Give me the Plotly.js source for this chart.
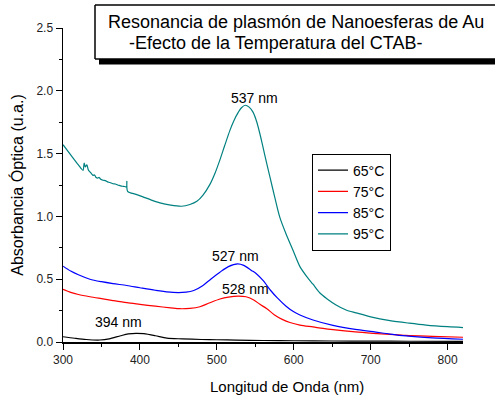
<!DOCTYPE html>
<html>
<head>
<meta charset="utf-8">
<script src="https://cdn.plot.ly/plotly-3.0.1.min.js"></script>
<style>html,body{margin:0;padding:0;background:#fff;overflow:hidden;}#chart{width:495px;height:398px;}</style>
</head>
<body>
<div id="chart"></div>
<script>
// ---- Data ----
const seriesNames = ["65°C", "75°C", "85°C", "95°C"];
const seriesColors = ["#000000", "#ff0000", "#0000ff", "#008080"];

const wl65 = [300,315,330,348,360,375,385,395,405,420,435,455,480,500,525,560,600,650,700,750,820];
const ab65 = [0.042,0.030,0.020,0.016,0.025,0.050,0.064,0.069,0.066,0.050,0.031,0.025,0.020,0.018,0.015,0.012,0.010,0.008,0.007,0.006,0.005];

const wl75 = [300,310,320,335,350,365,383,400,420,440,452,465,478,490,504,515,528,538,548,556,565,575,585,595,608,625,638,651,680,703,725,746,780,820];
const ab75 = [0.419,0.395,0.378,0.360,0.345,0.330,0.313,0.300,0.285,0.272,0.265,0.268,0.281,0.310,0.342,0.358,0.366,0.360,0.335,0.300,0.265,0.215,0.180,0.155,0.135,0.120,0.108,0.098,0.080,0.069,0.060,0.052,0.045,0.038];

const wl85 = [300,310,320,335,350,365,383,400,420,443,460,470,482,492,504,515,527,535,545,551,560,570,578,590,600,608,625,651,680,703,725,746,780,820];
const ab85 = [0.604,0.565,0.535,0.500,0.480,0.465,0.450,0.432,0.412,0.395,0.397,0.410,0.450,0.500,0.556,0.600,0.622,0.610,0.570,0.546,0.490,0.410,0.355,0.285,0.240,0.215,0.175,0.132,0.100,0.082,0.063,0.048,0.033,0.022];

const wl95 = [300,310,320,326,327.5,329,331,333,335,337,339,341,343,345,347,349,352,355,358,361,365,368,371,374,377,380,382.5,383,384,395,404,415,426,440,454,465,474,482,491,498,504,510,517,522,528,532,537,542,547,552,558,563,569,575,582,590,599,608,617,625,634,643,655,668,681,700,725,750,772,800,820];
const ab95 = [1.571,1.490,1.410,1.367,1.425,1.395,1.410,1.370,1.355,1.340,1.327,1.330,1.310,1.305,1.310,1.295,1.288,1.285,1.275,1.270,1.260,1.258,1.250,1.245,1.240,1.238,1.235,1.280,1.200,1.175,1.155,1.130,1.108,1.090,1.081,1.095,1.120,1.170,1.255,1.350,1.450,1.560,1.685,1.760,1.830,1.865,1.885,1.870,1.830,1.750,1.606,1.470,1.314,1.160,0.990,0.860,0.730,0.600,0.520,0.460,0.390,0.345,0.295,0.255,0.232,0.200,0.170,0.150,0.135,0.122,0.115];

const peakLabels = ["537 nm", "527 nm", "528 nm", "394 nm"];
const peakLabelX = [549, 524, 537.5, 372];
const peakLabelY = [1.945, 0.684, 0.419, 0.161];

const titleLines = ["Resonancia de plasmón de Nanoesferas de Au", "-Efecto de la Temperatura del CTAB-"];
const xTitle = "Longitud de Onda (nm)";
const yTitle = "Absorbancia Óptica (u.a.)";

// ---- Build ----
const FONT = "Liberation Sans, Arial, sans-serif";
const xs = [wl65, wl75, wl85, wl95];
const ys = [ab65, ab75, ab85, ab95];
const traces = seriesNames.map((n, i) => ({
  x: xs[i], y: ys[i], name: n, type: "scatter", mode: "lines",
  line: {color: seriesColors[i], width: 1.2, shape: "spline", smoothing: 0.8}
}));

const annotations = peakLabels.map((t, i) => ({
  text: t, x: peakLabelX[i], y: peakLabelY[i], xref: "x", yref: "y",
  showarrow: false, font: {family: FONT, size: 14, color: "#000"}
}));
annotations.push({text: titleLines[0], xref: "paper", yref: "paper", x: 0.1075, y: 1.019,
  xanchor: "left", yanchor: "middle", showarrow: false, font: {family: FONT, size: 18, color: "#000"}});
annotations.push({text: titleLines[1], xref: "paper", yref: "paper", x: 0.16, y: 0.952,
  xanchor: "left", yanchor: "middle", showarrow: false, font: {family: FONT, size: 18, color: "#000"}});
annotations.push({text: xTitle, xref: "paper", yref: "paper", x: 0.559, y: -0.142,
  xanchor: "center", yanchor: "middle", showarrow: false, font: {family: FONT, size: 15, color: "#000"}});

const BOX = {x0: 0.08, x1: 1.2, y0: 0.901, y1: 1.073};
const layout = {
  width: 495, height: 398,
  margin: {l: 63, r: 32, t: 28, b: 56, pad: 0},
  paper_bgcolor: "#fff", plot_bgcolor: "#fff",
  font: {family: FONT, color: "#000"},
  showlegend: true,
  legend: {x: 0.6225, y: 0.6, xanchor: "left", yanchor: "top",
    bordercolor: "#000", borderwidth: 1, bgcolor: "#fff",
    font: {family: FONT, size: 14, color: "#000"}, itemwidth: 30, tracegroupgap: 0},
  xaxis: {range: [300, 820], showgrid: false, zeroline: false, showline: true,
    linecolor: "#000", linewidth: 1.5, ticks: "outside", ticklen: 6, tickwidth: 1, tickcolor: "#000",
    dtick: 100, tick0: 300, tickfont: {family: FONT, size: 12, color: "#222"},
    minor: {dtick: 50, ticks: "outside", ticklen: 3, tickcolor: "#000", showgrid: false}},
  yaxis: {range: [0, 2.5], showgrid: false, zeroline: false, showline: true,
    linecolor: "#000", linewidth: 1.5, ticks: "outside", ticklen: 6, tickwidth: 1, tickcolor: "#000",
    dtick: 0.5, tick0: 0, tickformat: ".1f", tickfont: {family: FONT, size: 12, color: "#222"},
    minor: {dtick: 0.25, ticks: "outside", ticklen: 3, tickcolor: "#000", showgrid: false},
    title: {text: yTitle, font: {family: FONT, size: 16, color: "#000"}, standoff: 9}},
  shapes: [
    {type: "rect", xref: "paper", yref: "paper", x0: 0.09, x1: 1.3, y0: 0.884, y1: 0.902,
      fillcolor: "#000", line: {width: 0}},
    {type: "rect", xref: "paper", yref: "paper", x0: BOX.x0, x1: BOX.x1, y0: BOX.y0, y1: BOX.y1,
      fillcolor: "#fff", line: {width: 0}},
    {type: "line", xref: "paper", yref: "paper", x0: BOX.x0, x1: BOX.x1, y0: BOX.y1, y1: BOX.y1,
      line: {color: "#000", width: 1.5}},
    {type: "line", xref: "paper", yref: "paper", x0: BOX.x0, x1: BOX.x1, y0: BOX.y0, y1: BOX.y0,
      line: {color: "#000", width: 1.5}},
    {type: "line", xref: "paper", yref: "paper", x0: BOX.x0, x1: BOX.x0, y0: BOX.y0, y1: BOX.y1,
      line: {color: "#000", width: 1.5}}
  ],
  annotations: annotations
};

Plotly.newPlot("chart", traces, layout, {displayModeBar: false, staticPlot: true});
</script>
</body>
</html>
